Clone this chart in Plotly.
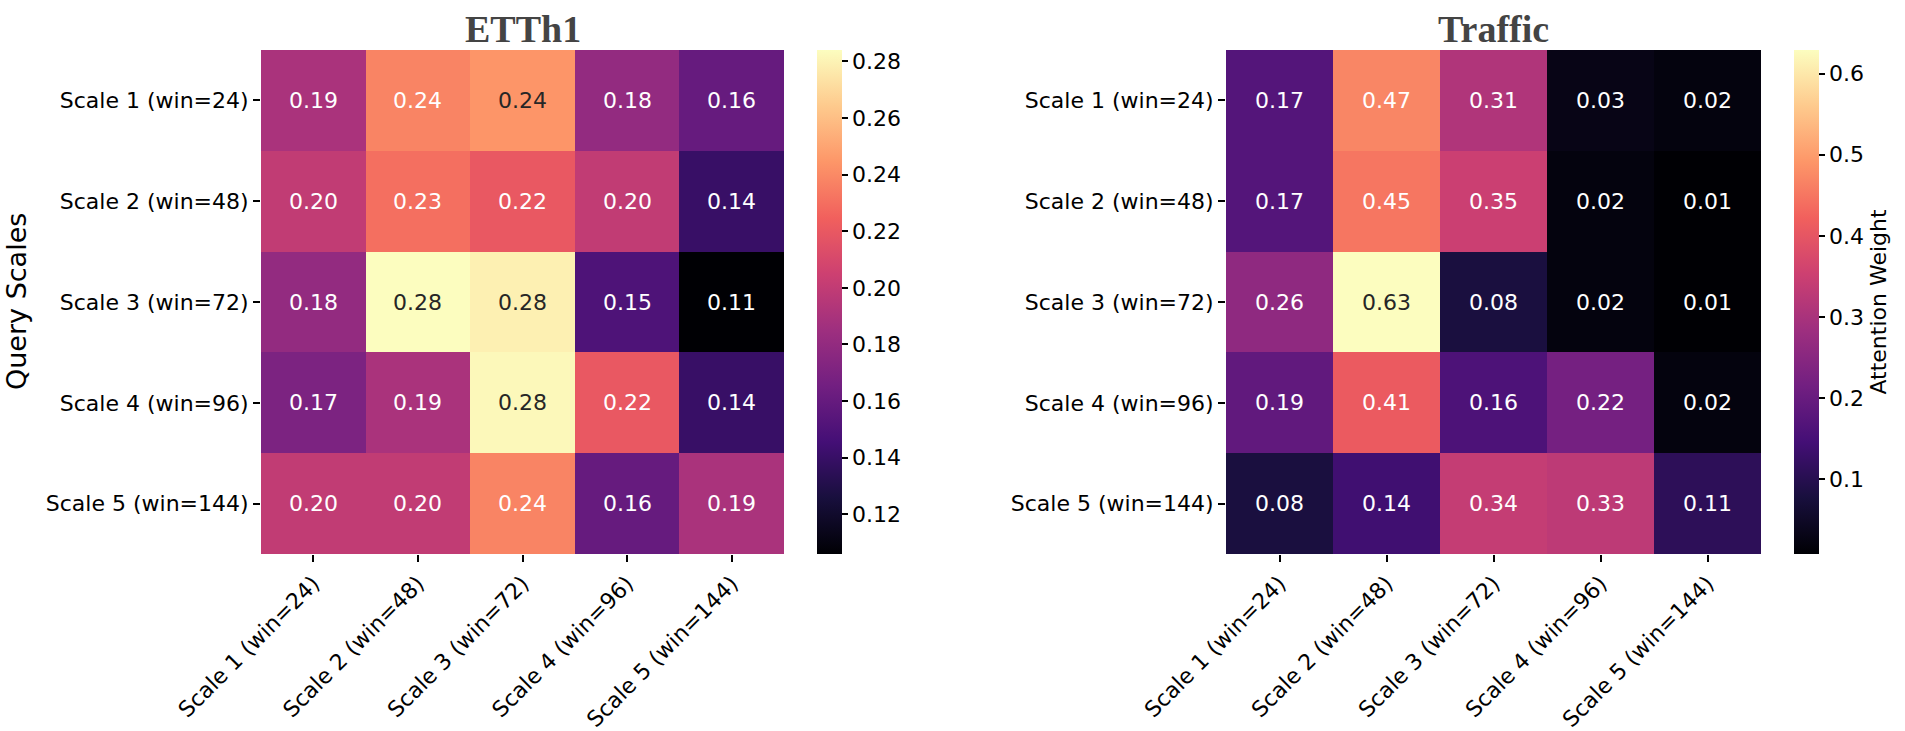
import numpy as np
import plotly.graph_objects as go
from plotly.colors import sample_colorscale, unlabel_rgb

labels = ["Scale 1 (win=24)", "Scale 2 (win=48)", "Scale 3 (win=72)",
          "Scale 4 (win=96)", "Scale 5 (win=144)"]

etth1_values = [
    [0.19, 0.238, 0.244, 0.18, 0.16],
    [0.20, 0.23, 0.22, 0.20, 0.14],
    [0.18, 0.284, 0.279, 0.15, 0.106],
    [0.17, 0.19, 0.282, 0.22, 0.14],
    [0.20, 0.20, 0.238, 0.16, 0.19],
]

traffic_values = [
    [0.17, 0.47, 0.31, 0.03, 0.02],
    [0.17, 0.45, 0.35, 0.02, 0.008],
    [0.26, 0.629, 0.08, 0.02, 0.008],
    [0.19, 0.41, 0.16, 0.22, 0.02],
    [0.08, 0.14, 0.34, 0.33, 0.11],
]

titles = ["ETTh1", "Traffic"]
y_title = "Query Scales"
cbar_title = "Attention Weight"

W, H = 1905, 731
def px(x):
    return x / W
def py(y):
    return 1 - y / H

FONT = "DejaVu Sans"
fig = go.Figure()

panels = [
    dict(z=etth1_values, xa="x", ya="y", dom=(261, 784), cb_x=817, dtick=0.02, fmt=".2f", cbt=""),
    dict(z=traffic_values, xa="x2", ya="y2", dom=(1226, 1761), cb_x=1794, dtick=0.1, fmt=".1f", cbt=cbar_title),
]

def text_color(v, lo, hi):
    t = (v - lo) / (hi - lo)
    c = sample_colorscale("Magma", [t])[0]
    rgb = np.array(unlabel_rgb(c)) / 255.0
    rgb = np.where(rgb <= 0.03928, rgb / 12.92, ((rgb + 0.055) / 1.055) ** 2.4)
    lum = rgb.dot([0.2126, 0.7152, 0.0722])
    return "#262626" if lum > 0.408 else "white"

annotations = []
for i, p in enumerate(panels):
    z = np.array(p["z"])
    lo, hi = z.min(), z.max()
    cb = dict(
        x=px(p["cb_x"]), xanchor="left", xref="paper",
        y=py(554), yanchor="bottom", yref="paper", len=(554 - 50) / H, lenmode="fraction",
        thickness=25, thicknessmode="pixels", outlinewidth=0, xpad=0, ypad=0,
        ticks="outside", ticklen=6, tickwidth=1.5, tickcolor="black",
        dtick=p["dtick"], tickformat=p["fmt"],
        tickfont=dict(family=FONT, size=22, color="black"),
    )
    if p["cbt"]:
        cb["title"] = dict(text=p["cbt"], side="right", font=dict(family=FONT, size=22, color="black"))
    fig.add_trace(go.Heatmap(
        z=z, x=labels, y=labels, colorscale="Magma", zmin=lo, zmax=hi,
        xaxis=p["xa"], yaxis=p["ya"], colorbar=cb, hoverinfo="skip",
    ))
    for r in range(5):
        for c in range(5):
            v = z[r, c]
            annotations.append(dict(
                x=labels[c], y=labels[r], xref=p["xa"], yref=p["ya"],
                text=f"{v:.2f}", showarrow=False,
                font=dict(family=FONT, size=22, color=text_color(v, lo, hi)),
            ))
    annotations.append(dict(
        x=px((p["dom"][0] + p["dom"][1]) / 2), y=py(29), xref="paper", yref="paper",
        text=f"<b>{titles[i]}</b>", showarrow=False, xanchor="center", yanchor="middle",
        font=dict(family="Liberation Serif", size=38, color="#444444"),
    ))

annotations.append(dict(
    x=px(16), y=py(302), xref="paper", yref="paper", text=y_title, textangle=-90,
    showarrow=False, xanchor="center", yanchor="middle",
    font=dict(family=FONT, size=27, color="black"),
))

axis_common = dict(
    type="category", ticks="outside", ticklen=7, tickwidth=1.5, tickcolor="black",
    showgrid=False, zeroline=False, showline=False, automargin=False,
    tickfont=dict(family=FONT, size=22, color="black"),
)

layout = dict(
    width=W, height=H, margin=dict(l=0, r=0, t=0, b=0, pad=0, autoexpand=False),
    paper_bgcolor="white", plot_bgcolor="white",
    annotations=annotations,
)
for i, p in enumerate(panels):
    sfx = "" if i == 0 else "2"
    layout["xaxis" + sfx] = dict(axis_common, domain=[px(p["dom"][0]), px(p["dom"][1])],
                                  anchor="y" + sfx, tickangle=-45)
    layout["yaxis" + sfx] = dict(axis_common, domain=[py(554), py(50)],
                                  anchor="x" + sfx, autorange="reversed")

fig.update_layout(**layout)
fig.write_html(
    "out.html",
    config={"displayModeBar": False},
    post_script="document.body.style.margin='0';document.body.style.overflow='hidden';",
)
